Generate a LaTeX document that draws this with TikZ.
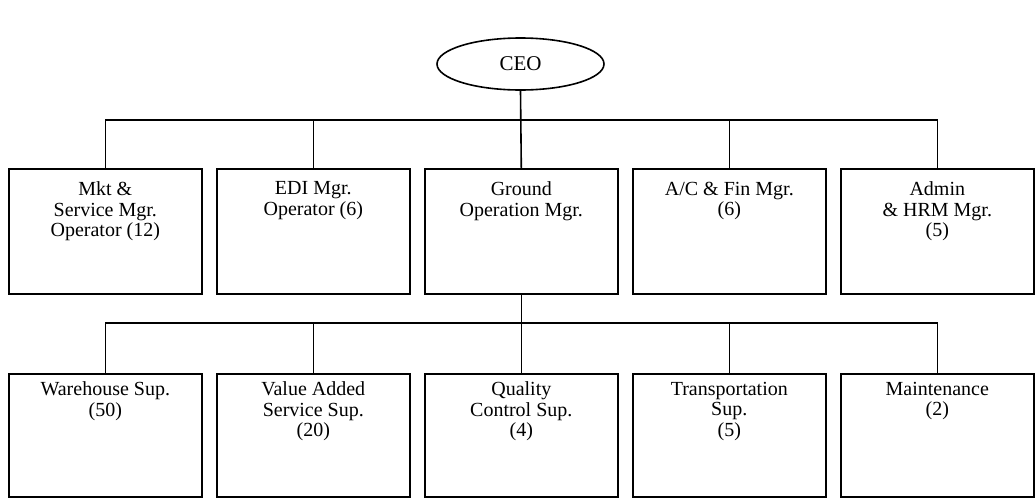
\documentclass[tikz,border=0pt]{standalone}
\usepackage{fontspec}
\setmainfont{Liberation Serif}
\usetikzlibrary{shapes.geometric}
\begin{document}
\begin{tikzpicture}[x=1pt,y=-1pt,
  line width=1.6pt,
  orgbox/.style={draw, rectangle, minimum width=193pt, minimum height=#1, inner sep=0pt, anchor=north west},
  orgbox/.default=125pt,
  boxtext/.style={anchor=north, inner sep=0pt, align=center, font=\fontsize{20}{20.5}\selectfont},
  link/.style={line width=1.6pt}
]
\useasboundingbox (0,0) rectangle (1036,501);

% top of the chart
\node[draw, ellipse, minimum width=167pt, minimum height=52pt, inner sep=0pt,
      font=\fontsize{21}{22}\selectfont] (ceo) at (520.5,64) {CEO};

% managers
\node[orgbox] (m1) at (8,168) {};
\node[orgbox] (m2) at (216,168) {};
\node[orgbox] (m3) at (424,168) {};
\node[orgbox] (m4) at (632,168) {};
\node[orgbox] (m5) at (840,168) {};

\node[boxtext] (t1) at ([yshift=-13pt]m1.north) {Mkt \&\\Service Mgr.\\Operator (12)};
\node[boxtext] (t2) at ([yshift=-13pt]m2.north) {EDI Mgr.\\Operator (6)};
\node[boxtext] (t3) at ([yshift=-13pt]m3.north) {Ground\\Operation Mgr.};
\node[boxtext] (t4) at ([yshift=-13pt]m4.north) {A/C \& Fin Mgr.\\(6)};
\node[boxtext] (t5) at ([yshift=-13pt]m5.north) {Admin\\\& HRM Mgr.\\(5)};

% supervisors
\node[orgbox=123pt] (s1) at (8,373) {};
\node[orgbox=123pt] (s2) at (216,373) {};
\node[orgbox=123pt] (s3) at (424,373) {};
\node[orgbox=123pt] (s4) at (632,373) {};
\node[orgbox=123pt] (s5) at (840,373) {};

\node[boxtext] (u1) at ([yshift=-8pt]s1.north) {Warehouse Sup.\\(50)};
\node[boxtext] (u2) at ([yshift=-8pt]s2.north) {Value Added\\Service Sup.\\(20)};
\node[boxtext] (u3) at ([yshift=-8pt]s3.north) {Quality\\Control Sup.\\(4)};
\node[boxtext] (u4) at ([yshift=-8pt]s4.north) {Transportation\\Sup.\\(5)};
\node[boxtext] (u5) at ([yshift=-8pt]s5.north) {Maintenance\\(2)};

% connector buses
\coordinate (busA) at (520,120);
\coordinate (busB) at (520,323);

\draw[link] (ceo.south) -- (m3.north);
\draw[link] (m1.north) -- (m1.north |- busA) -- (m5.north |- busA) -- (m5.north);
\draw[link] (m2.north) -- (m2.north |- busA);
\draw[link] (m4.north) -- (m4.north |- busA);

\draw[link] (m3.south) -- (s3.north);
\draw[link] (s1.north) -- (s1.north |- busB) -- (s5.north |- busB) -- (s5.north);
\draw[link] (s2.north) -- (s2.north |- busB);
\draw[link] (s4.north) -- (s4.north |- busB);
\end{tikzpicture}
\end{document}
